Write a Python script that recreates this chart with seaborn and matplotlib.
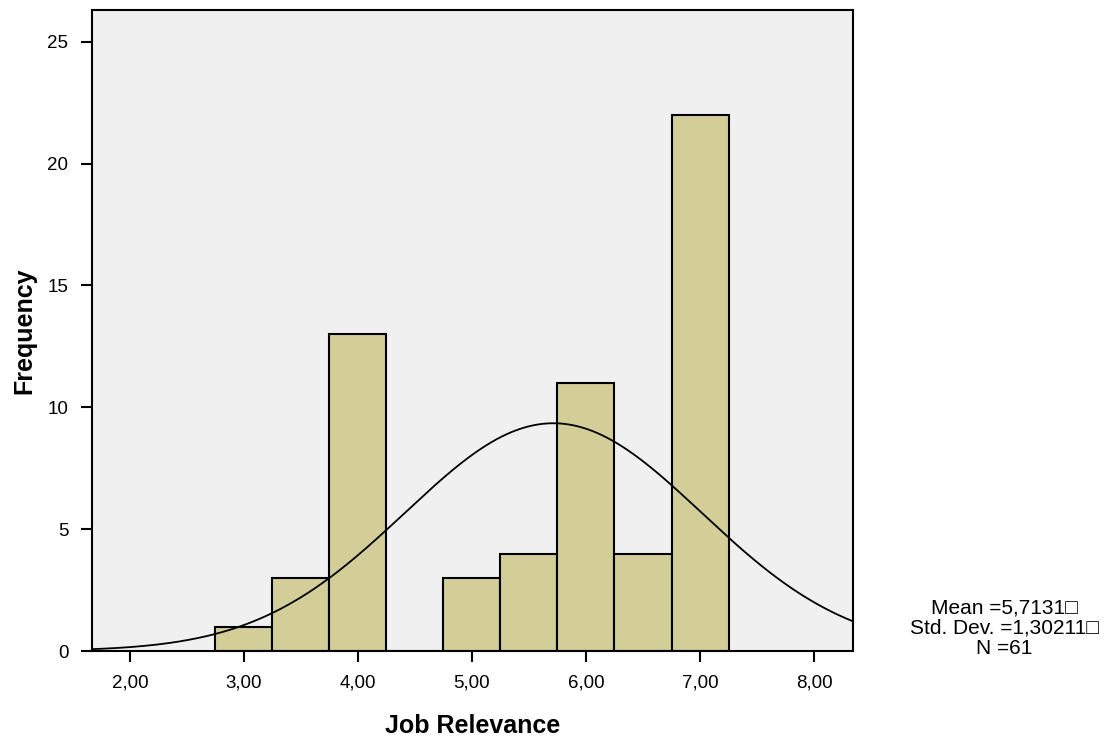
import matplotlib
matplotlib.use("Agg")
import matplotlib.pyplot as plt
import numpy as np
import pandas as pd
import seaborn as sns

# Histogram of Job Relevance (bin centres and counts)
bin_centers = [3.0, 3.5, 4.0, 4.5, 5.0, 5.5, 6.0, 6.5, 7.0]
counts = [1, 3, 13, 0, 3, 4, 11, 4, 22]
bin_width = 0.5
mean_val = 5.7131
std_val = 1.30211
n_val = 61
x_ticks = [2, 3, 4, 5, 6, 7, 8]
x_tick_labels = ["2,00", "3,00", "4,00", "5,00", "6,00", "7,00", "8,00"]
y_ticks = [0, 5, 10, 15, 20, 25]

df = pd.DataFrame({"value": bin_centers, "count": counts})

sns.set_style("white")
plt.rcParams["font.family"] = ["Liberation Sans", "DejaVu Sans"]
plt.rcParams["text.color"] = "black"
plt.rcParams["axes.labelcolor"] = "black"
plt.rcParams["xtick.color"] = "black"
plt.rcParams["ytick.color"] = "black"

fig = plt.figure(figsize=(11.15, 7.4), dpi=100)
ax = fig.add_axes([92 / 1115, 1 - 651 / 740, (853 - 92) / 1115, (651 - 10) / 740])
ax.set_facecolor("#F0F0F0")

edges = list(np.arange(bin_centers[0] - bin_width / 2, bin_centers[-1] + bin_width, bin_width))
sns.histplot(data=df, x="value", weights="count", bins=edges, ax=ax,
             color="#D3CE97", edgecolor="black", linewidth=1.5, alpha=1)

# fitted normal curve from the reported mean / std. dev.
xs = np.linspace(1.6, 8.4, 300)
ys = n_val * bin_width * np.exp(-0.5 * ((xs - mean_val) / std_val) ** 2) / (std_val * np.sqrt(2 * np.pi))
sns.lineplot(x=xs, y=ys, ax=ax, color="black", linewidth=1.3)

ax.set_xlim(1.667, 8.342)
ax.set_ylim(0, 26.3)
ax.set_xticks(x_ticks)
ax.set_xticklabels(x_tick_labels)
ax.set_yticks(y_ticks)
ax.tick_params(axis="both", direction="out", length=8, width=1.5, labelsize=13.5, pad=9,
               bottom=True, left=True, colors="black")
for s in ax.spines.values():
    s.set_linewidth(1.5)
    s.set_color("black")

ax.set_xlabel("Job Relevance", fontsize=18, fontweight="bold", labelpad=16)
ax.set_ylabel("Frequency", fontsize=18, fontweight="bold", labelpad=8)

fig.text(1004 / 1115, 1 - 628 / 740,
         "Mean =5,7131\u25a1\nStd. Dev. =1,30211\u25a1\nN =61",
         ha="center", va="center", multialignment="center", fontsize=15, linespacing=1.1)

fig.savefig("out.png", dpi=100)
